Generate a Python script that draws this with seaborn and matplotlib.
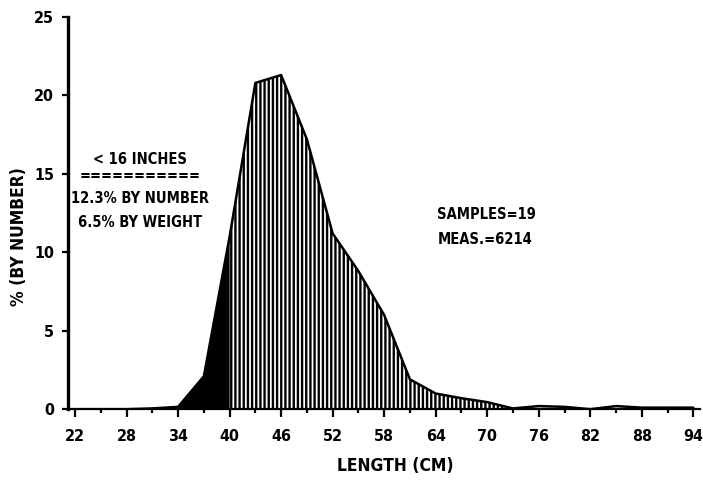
import numpy as np
import matplotlib
matplotlib.use("Agg")
import matplotlib.pyplot as plt
import seaborn as sns

# length classes (cm) and percent by number
length_cm = [22, 25, 28, 31, 34, 37, 40, 43, 46, 49, 52, 55, 58,
             61, 64, 67, 70, 73, 76, 79, 82, 85, 88, 91, 94]
pct_number = [0.0, 0.0, 0.0, 0.05, 0.15, 2.1, 11.0, 20.8, 21.3, 17.2, 11.2, 8.8, 6.0,
              1.9, 1.0, 0.7, 0.45, 0.05, 0.2, 0.15, 0.0, 0.2, 0.1, 0.1, 0.1]
tick_labels = [22, 28, 34, 40, 46, 52, 58, 64, 70, 76, 82, 88, 94]
cutoff_cm = 40          # 16 inches
hatch_end_cm = 73
left_notes = ["< 16 INCHES", "===========", "12.3% BY NUMBER", "6.5% BY WEIGHT"]
right_notes = ["SAMPLES=19", "MEAS.=6214"]

sns.set_style("ticks")
plt.rcParams["font.family"] = ["DejaVu Sans"]
plt.rcParams["font.stretch"] = "condensed"
plt.rcParams["font.weight"] = "bold"
plt.rcParams["text.color"] = "black"
plt.rcParams["axes.labelcolor"] = "black"
plt.rcParams["xtick.color"] = "black"
plt.rcParams["ytick.color"] = "black"
plt.rcParams["hatch.linewidth"] = 1.7
plt.rcParams["hatch.color"] = "black"

df_x = np.array(length_cm, dtype=float)
df_y = np.array(pct_number)

fig = plt.figure(figsize=(7.03, 4.86), dpi=100)
ax = fig.add_axes([0.097, 0.158, 0.899, 0.807])

# black area below 16 inches
m1 = df_x <= cutoff_cm
ax.fill_between(df_x[m1], 0, df_y[m1], color="black", lw=0)
# hatched area above
m2 = (df_x >= cutoff_cm) & (df_x <= hatch_end_cm)
ax.fill_between(df_x[m2], 0, df_y[m2], facecolor="white", edgecolor="black",
                hatch="||||", lw=0)
sns.lineplot(x=length_cm, y=pct_number, color="black", lw=1.8, ax=ax)

ax.set_xlim(21.2, 94.8)
ax.set_ylim(0, 25)
ax.set_xticks(tick_labels)
ax.set_xticks(np.arange(25, 94, 6), minor=True)
ax.set_yticks([0, 5, 10, 15, 20, 25])
ax.tick_params(axis="both", which="major", length=6, width=1.6, labelsize=11.5,
               direction="out", pad=8, colors="black")
ax.tick_params(axis="x", which="minor", length=3, width=1.6, colors="black")
ax.tick_params(axis="y", length=4, pad=6)
sns.despine(ax=ax)
ax.spines["left"].set_linewidth(2.4)
ax.spines["bottom"].set_linewidth(1.6)
ax.spines["left"].set_color("black")
ax.spines["bottom"].set_color("black")
for lab in ax.get_xticklabels() + ax.get_yticklabels():
    lab.set_fontweight("bold")

ax.set_xlabel("LENGTH (CM)", fontsize=12.5, fontweight="bold")
ax.set_ylabel("% (BY NUMBER)", fontsize=12.5, fontweight="bold")
ax.xaxis.set_label_coords(0.517, -0.122)
ax.yaxis.set_label_coords(-0.063, 0.44)

for txt, yy in zip(left_notes, [15.9, 14.9, 13.45, 11.9]):
    ax.text(29.6, yy, txt, ha="center", va="center", fontsize=10.5, fontweight="bold")
for txt, yy in zip(right_notes, [12.4, 10.8]):
    ax.text(64.2, yy, txt, ha="left", va="center", fontsize=10.5, fontweight="bold")

fig.savefig("out.png", dpi=100, facecolor="white")
